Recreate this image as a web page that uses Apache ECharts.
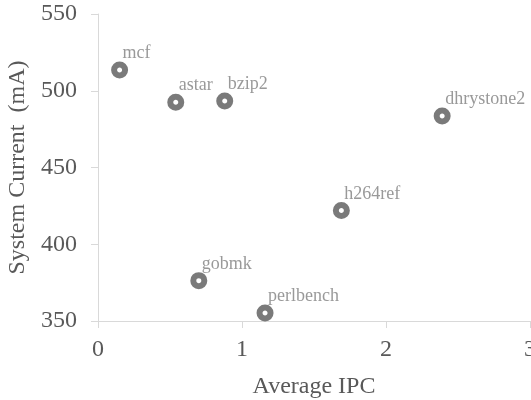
<!DOCTYPE html>
<html>
<head>
<meta charset="utf-8">
<script src="https://cdn.jsdelivr.net/npm/echarts@6/dist/echarts.min.js"></script>
<style>html,body{margin:0;padding:0;background:#fff}#c{width:531px;height:400px}</style>
</head>
<body>
<div id="c"></div>
<script>
const benchmarks = ["mcf", "astar", "bzip2", "dhrystone2", "h264ref", "gobmk", "perlbench"];
const avgIPC = [0.15, 0.54, 0.88, 2.39, 1.69, 0.70, 1.16];
const currentMA = [513.5, 492.5, 493.3, 483.6, 422, 376.3, 355.2];
const xTicks = [0, 1, 2, 3];
const yTicks = [350, 400, 450, 500, 550];

const font = '"Liberation Serif", "Times New Roman", serif';
const chart = echarts.init(document.getElementById('c'));
chart.setOption({
  animation: false,
  backgroundColor: '#fff',
  grid: { left: 98, right: 1, top: 14, bottom: 79, containLabel: false, outerBoundsMode: 'none' },
  xAxis: {
    type: 'value', min: xTicks[0], max: xTicks[xTicks.length - 1], interval: 1,
    name: 'Average IPC', nameLocation: 'middle', nameGap: 54,
    nameTextStyle: { fontFamily: font, fontSize: 24, color: '#595959' },
    axisLine: { show: true, lineStyle: { color: '#d9d9d9', width: 1 } },
    axisTick: { show: true, length: 7, lineStyle: { color: '#d9d9d9' } },
    axisLabel: { fontFamily: font, fontSize: 24, color: '#595959', margin: 17, showMaxLabel: true, hideOverlap: false },
    splitLine: { show: false }
  },
  yAxis: {
    type: 'value', min: yTicks[0], max: yTicks[yTicks.length - 1], interval: 50,
    name: 'System Current  (mA)', nameLocation: 'middle', nameGap: 58, nameRotate: 90,
    nameTextStyle: { fontFamily: font, fontSize: 24, color: '#595959' },
    axisLine: { show: true, lineStyle: { color: '#d9d9d9', width: 1 } },
    axisTick: { show: true, length: 7, lineStyle: { color: '#d9d9d9' } },
    axisLabel: { fontFamily: font, fontSize: 24, color: '#595959', margin: 21 },
    splitLine: { show: false }
  },
  series: [{
    type: 'scatter',
    data: benchmarks.map((n, i) => ({ name: n, value: [avgIPC[i], currentMA[i]] })),
    symbol: 'circle', symbolSize: 11,
    itemStyle: { color: '#ffffff', borderColor: '#595959', borderWidth: 6 },
    label: {
      show: true, formatter: p => p.name, position: 'top', align: 'left',
      offset: [3, 6],
      fontFamily: font, fontSize: 18, color: '#808080'
    }
  }]
});
</script>
</body>
</html>
